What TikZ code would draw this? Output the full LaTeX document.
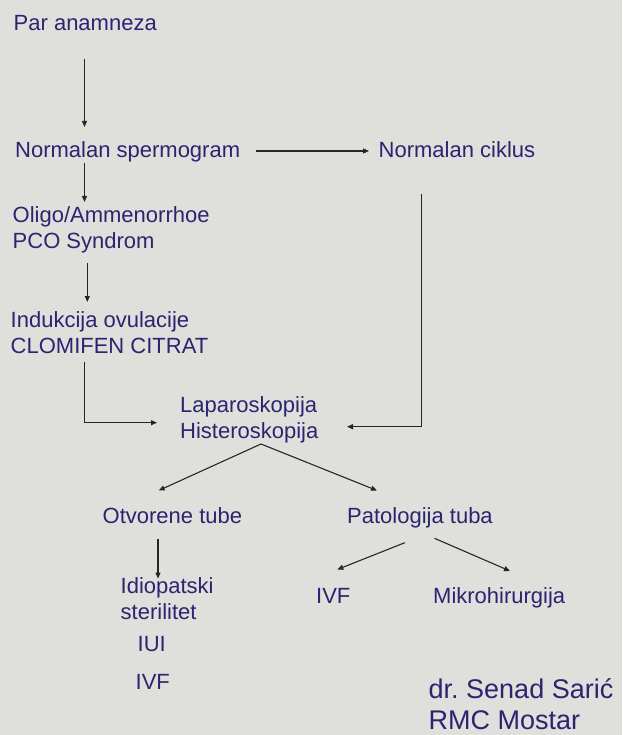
\documentclass[tikz,border=0pt]{standalone}
\usepackage{fontspec}
\setmainfont{Liberation Sans}
\usetikzlibrary{arrows.meta}
\definecolor{bg}{HTML}{DFDFDB}
\definecolor{txt}{HTML}{2B2470}
\definecolor{ln}{HTML}{262626}
\begin{document}
\frenchspacing
\begin{tikzpicture}[x=1pt,y=-1pt,
  lbl/.style={anchor=base west,inner sep=0pt,text=txt,align=left,
    font=\fontsize{22}{25.8}\selectfont},
  big/.style={lbl,font=\fontsize{27}{31}\selectfont},
  arr/.style={draw=ln,line width=1.1pt,-{Triangle[length=6pt,width=5pt]}}]
\fill[bg] (0,0) rectangle (622,735);
\useasboundingbox (0,0) rectangle (622,735);

\node[lbl] (par) at (13.5,31) {Par anamneza};
\node[lbl] (sperm) at (15,158) {Normalan spermogram};
\node[lbl] (cik) at (378.5,158) {Normalan ciklus};
\node[lbl] (oligo) at (12.5,248) {Oligo/Ammenorrhoe\\PCO Syndrom};
\node[lbl] (ind) at (10.5,353.3) {Indukcija ovulacije\\CLOMIFEN CITRAT};
\node[lbl] (lap) at (180,438.5) {Laparoskopija\\Histeroskopija};
\node[lbl] (otv) at (102.5,523) {Otvorene tube};
\node[lbl] (pat) at (347,523) {Patologija tuba};
\node[lbl] (idio) at (120.5,619.5) {Idiopatski\\sterilitet};
\node[lbl] (iui) at (137.5,651) {IUI};
\node[lbl] (ivfa) at (135.5,689.5) {IVF};
\node[lbl] (ivfb) at (316,603) {IVF};
\node[lbl] (mikro) at (433,603) {Mikrohirurgija};
\node[big] (dr) at (428.5,729) {dr. Senad Sarić\\RMC Mostar};

\coordinate (a1s) at (84.5,59.5);   \coordinate (a1e) at (84.5,127);
\coordinate (hs) at (256,151);      \coordinate (he) at (369,151);
\coordinate (a2s) at (84.5,163.5);  \coordinate (a2e) at (84.5,202);
\coordinate (a3s) at (87.3,262.5);  \coordinate (a3e) at (87.3,302);
\coordinate (les) at (84.5,362);    \coordinate (lee) at (157,422.7);
\coordinate (res) at (421.4,194.5); \coordinate (ree) at (347,426.7);
\coordinate (dvs) at (261,444);     \coordinate (dvl) at (158.7,490.5);
\coordinate (dvr) at (377,490.5);
\coordinate (a4s) at (158,538.5);   \coordinate (a4e) at (158,578.5);
\coordinate (pls) at (404.8,542.7); \coordinate (ple) at (337.3,569.5);
\coordinate (prs) at (434.5,538.3); \coordinate (pre) at (510,571);

\draw[arr] (a1s) -- (a1e);
\draw[arr] (hs) -- (he);
\draw[arr] (a2s) -- (a2e);
\draw[arr] (a3s) -- (a3e);
\draw[arr] (les) |- (lee);
\draw[arr] (res) |- (ree);
\draw[arr] (dvs) -- (dvl);
\draw[arr] (dvs) -- (dvr);
\draw[arr] (a4s) -- (a4e);
\draw[arr] (pls) -- (ple);
\draw[arr] (prs) -- (pre);
\end{tikzpicture}
\end{document}
